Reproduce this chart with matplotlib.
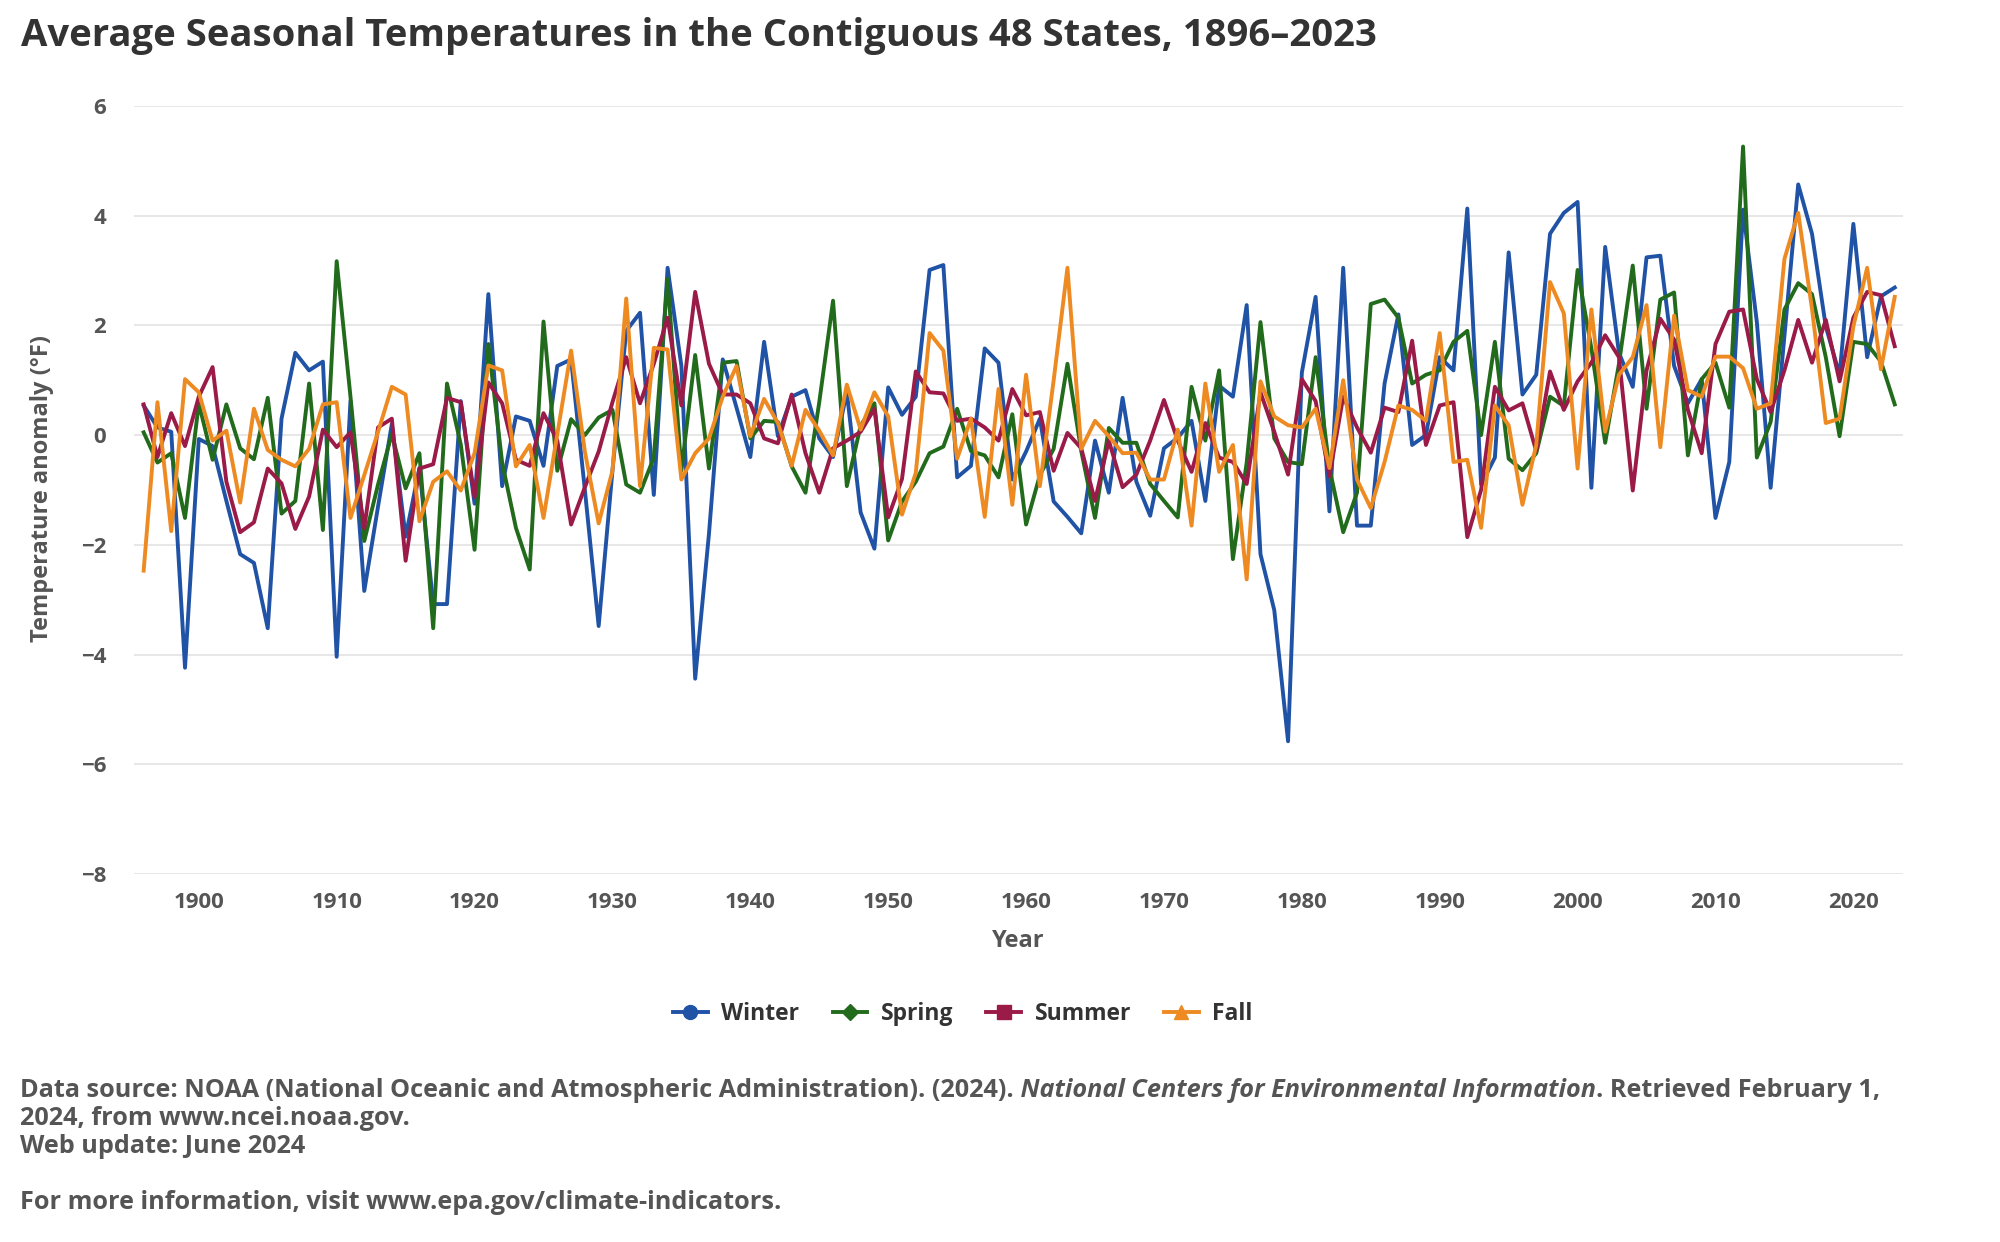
import numpy as np
import matplotlib
matplotlib.use('Agg')
import matplotlib.pyplot as plt
from matplotlib.lines import Line2D

plt.rcParams['font.family'] = ['Open Sans', 'DejaVu Sans']

years = list(range(1896, 2024))

winter = [0.54, 0.14, 0.06, -4.24, -0.07, -0.2, -1.2, -2.17, -2.33, -3.52,
          0.3, 1.5, 1.18, 1.34, -4.04, 0.62, -2.84, -1.3, 0.2, -1.85,
          -0.6, -3.08, -3.08, 0.62, -1.25, 2.57, -0.93, 0.34, 0.26, -0.56,
          1.26, 1.38, -1.0, -3.48, -0.65, 1.9, 2.23, -1.09, 3.05, 1.26,
          -4.44, -1.8, 1.38, 0.5, -0.4, 1.7, -0.02, 0.7, 0.82, -0.06,
          -0.4, 0.78, -1.41, -2.07, 0.87, 0.37, 0.7, 3.01, 3.1, -0.77,
          -0.56, 1.58, 1.32, -0.81, -0.3, 0.3, -1.21, -1.49, -1.79, -0.1,
          -1.05, 0.68, -0.85, -1.47, -0.24, -0.05, 0.26, -1.2, 0.9, 0.7,
          2.37, -2.17, -3.19, -5.58, 1.14, 2.52, -1.39, 3.05, -1.65, -1.65,
          0.94, 2.2, -0.18, 0.0, 1.42, 1.18, 4.13, -0.9, -0.41, 3.33,
          0.74, 1.1, 3.67, 4.05, 4.25, -0.96, 3.43, 1.5, 0.88, 3.24,
          3.27, 1.26, 0.58, 1.02, -1.51, -0.49, 4.11, 2.06, -0.96, 1.8,
          4.57, 3.67, 1.98, 1.1, 3.85, 1.42, 2.53, 2.69]

spring = [0.05, -0.5, -0.33, -1.51, 0.58, -0.45, 0.56, -0.24, -0.44, 0.68,
          -1.43, -1.2, 0.94, -1.73, 3.17, 0.7, -1.93, -0.9, 0.02, -0.97,
          -0.33, -3.52, 0.94, -0.17, -2.09, 1.66, -0.5, -1.69, -2.45, 2.07,
          -0.65, 0.29, 0.0, 0.32, 0.46, -0.9, -1.05, -0.41, 2.85, -0.65,
          1.46, -0.61, 1.32, 1.35, -0.06, 0.26, 0.24, -0.57, -1.05, 0.6,
          2.45, -0.93, 0.17, 0.58, -1.92, -1.21, -0.85, -0.33, -0.21, 0.48,
          -0.29, -0.37, -0.77, 0.38, -1.63, -0.73, -0.25, 1.3, -0.29, -1.51,
          0.13, -0.14, -0.14, -0.89, -1.2, -1.5, 0.88, -0.1, 1.18, -2.26,
          -0.5, 2.06, -0.06, -0.49, -0.53, 1.42, -0.6, -1.77, -1.05, 2.39,
          2.47, 2.14, 0.94, 1.1, 1.18, 1.7, 1.9, 0.0, 1.7, -0.43,
          -0.64, -0.33, 0.7, 0.53, 3.01, 1.58, -0.14, 1.3, 3.09, 0.48,
          2.47, 2.6, -0.37, 1.02, 1.32, 0.5, 5.26, -0.41, 0.24, 2.29,
          2.77, 2.57, 1.42, -0.02, 1.7, 1.66, 1.34, 0.56]

summer = [0.56, -0.4, 0.4, -0.2, 0.7, 1.24, -0.85, -1.77, -1.59, -0.61,
          -0.88, -1.71, -1.12, 0.1, -0.22, 0.05, -1.7, 0.14, 0.3, -2.29,
          -0.61, -0.53, 0.68, 0.6, -1.13, 0.96, 0.58, -0.45, -0.56, 0.4,
          -0.1, -1.63, -0.95, -0.3, 0.6, 1.42, 0.58, 1.3, 2.14, 0.54,
          2.61, 1.3, 0.74, 0.74, 0.58, -0.06, -0.15, 0.74, -0.33, -1.05,
          -0.24, -0.1, 0.06, 0.48, -1.5, -0.8, 1.16, 0.78, 0.76, 0.26,
          0.3, 0.14, -0.1, 0.84, 0.36, 0.42, -0.65, 0.04, -0.24, -1.2,
          -0.1, -0.95, -0.72, -0.1, 0.64, -0.1, -0.67, 0.22, -0.41, -0.49,
          -0.89, 0.78, 0.06, -0.72, 1.02, 0.62, -0.75, 0.7, 0.14, -0.32,
          0.5, 0.42, 1.72, -0.18, 0.54, 0.6, -1.86, -1.0, 0.88, 0.45,
          0.58, -0.29, 1.16, 0.46, 0.98, 1.32, 1.82, 1.42, -1.01, 1.18,
          2.12, 1.74, 0.46, -0.33, 1.66, 2.25, 2.29, 1.02, 0.42, 1.18,
          2.1, 1.32, 2.1, 0.98, 2.14, 2.61, 2.55, 1.62]

fall = [-2.47, 0.6, -1.75, 1.02, 0.78, -0.1, 0.08, -1.23, 0.48, -0.27,
        -0.45, -0.57, -0.25, 0.56, 0.6, -1.51, -0.73, 0.06, 0.88, 0.74,
        -1.57, -0.85, -0.66, -1.01, -0.33, 1.27, 1.18, -0.57, -0.18, -1.51,
        0.02, 1.54, -0.3, -1.61, -0.65, 2.49, -0.93, 1.59, 1.56, -0.81,
        -0.33, -0.06, 0.7, 1.26, -0.02, 0.66, 0.22, -0.56, 0.46, 0.08,
        -0.37, 0.92, 0.1, 0.78, 0.34, -1.45, -0.69, 1.86, 1.54, -0.43,
        0.3, -1.49, 0.84, -1.27, 1.1, -0.93, 1.0, 3.05, -0.25, 0.26,
        -0.02, -0.33, -0.32, -0.81, -0.81, 0.1, -1.65, 0.94, -0.67, -0.18,
        -2.63, 0.98, 0.34, 0.18, 0.14, 0.48, -0.6, 1.0, -0.81, -1.33,
        -0.49, 0.54, 0.46, 0.26, 1.86, -0.49, -0.45, -1.69, 0.54, 0.18,
        -1.27, -0.18, 2.79, 2.22, -0.61, 2.29, 0.06, 1.1, 1.42, 2.37,
        -0.22, 2.18, 0.82, 0.7, 1.43, 1.43, 1.22, 0.48, 0.58, 3.21,
        4.05, 2.3, 0.22, 0.3, 1.98, 3.05, 1.2, 2.52]

series = ['Winter', 'Spring', 'Summer', 'Fall']
colors = ['#2052a6', '#236b1c', '#9a1a48', '#ee8a22']
markers = ['o', 'D', 's', '^']

fig = plt.figure(figsize=(20, 12.42), dpi=100)
ax = fig.add_axes([0.067, 0.2963, 0.8845, 0.6184])

for vals, c in zip([winter, spring, summer, fall], colors):
    ax.plot(years, vals, color=c, lw=2.8, solid_joinstyle='round')

ax.set_xlim(1895.3, 2023.6)
ax.set_ylim(-8, 6)
ax.set_yticks(np.arange(-8, 7, 2))
ax.set_xticks(np.arange(1900, 2021, 10))
ax.grid(axis='y', color='#e3e3e3', lw=1.2)
ax.set_axisbelow(True)
for s in ax.spines.values():
    s.set_visible(False)
ax.tick_params(axis='both', length=0, labelsize=16, labelcolor='#555555')
ax.tick_params(axis='y', pad=20)
ax.tick_params(axis='x', pad=13)
for lab in ax.get_xticklabels() + ax.get_yticklabels():
    lab.set_fontweight('bold')

fig.text(0.0105, 1 - 36 / 1242, 'Average Seasonal Temperatures in the Contiguous 48 States, 1896\u20132023',
         fontsize=27.5, fontweight='bold', color='#333333', va='center', ha='left')
fig.text(0.509, 1 - 941 / 1242, 'Year', fontsize=17, fontweight='bold', color='#555555',
         ha='center', va='center')
fig.text(0.021, 1 - 489 / 1242, 'Temperature anomaly (\u00b0F)', fontsize=17, fontweight='bold',
         color='#555555', ha='center', va='center', rotation=90)

handles = [Line2D([0], [0], color=c, lw=2.8, marker=m, markersize=10 if m != 'D' else 8)
           for c, m in zip(colors, markers)]
leg = fig.legend(handles, series, loc='center', bbox_to_anchor=(0.4815, 1 - 1014 / 1242),
                 ncol=4, frameon=False, fontsize=16.5, handlelength=1.5, columnspacing=1.45,
                 handletextpad=0.6)
for t in leg.get_texts():
    t.set_fontweight('bold')
    t.set_color('#333333')

# footer
fkw = dict(fontsize=18.2, color='#555555', fontweight='bold', va='baseline', ha='left')
x0 = 20 / 2000
y1 = 1 - 1097 / 1242
t1 = fig.text(x0, y1, 'Data source: NOAA (National Oceanic and Atmospheric Administration). (2024).', **fkw)
r = fig.canvas.get_renderer()
x1 = t1.get_window_extent(renderer=r).x1 / fig.bbox.width
t2 = fig.text(x1, y1, ' National Centers for Environmental Information', style='italic', **fkw)
x2 = t2.get_window_extent(renderer=r).x1 / fig.bbox.width
fig.text(x2, y1, '. Retrieved February 1,', **fkw)
fig.text(x0, 1 - 1125 / 1242, '2024, from www.ncei.noaa.gov.', **fkw)
fig.text(x0, 1 - 1153 / 1242, 'Web update: June 2024', **fkw)
fig.text(x0, 1 - 1209 / 1242, 'For more information, visit www.epa.gov/climate-indicators.', **fkw)

fig.savefig('out.png', dpi=100, facecolor='white')
